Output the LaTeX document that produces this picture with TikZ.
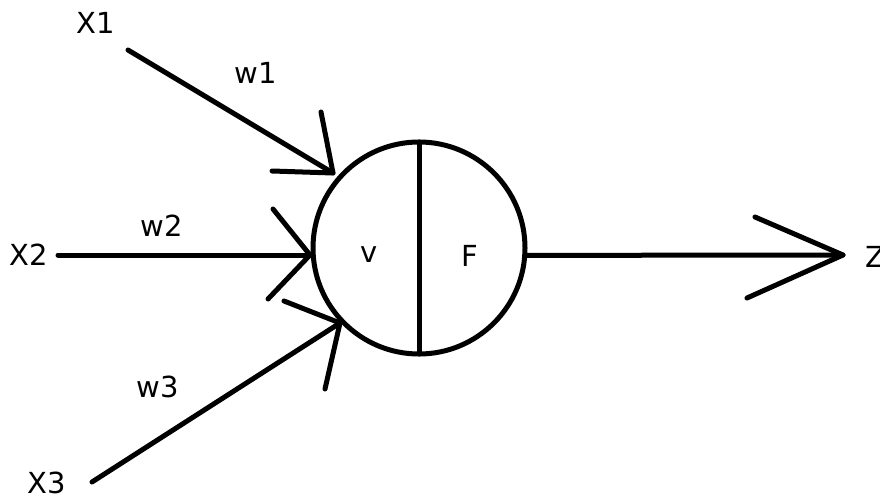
\documentclass[tikz,border=0pt]{standalone}
\usepackage{fontspec}
\setmainfont{DejaVu Sans}
\begin{document}
\begin{tikzpicture}[x=1pt,y=-1pt,line cap=round,line join=round,
  ln/.style={line width=5pt},
  lbl/.style={font=\fontsize{29}{34}\selectfont,inner sep=0pt}]
\useasboundingbox (0,0) rectangle (880,497);
% neuron body
\node[draw,circle,line width=5pt,minimum size=212pt,inner sep=0pt,outer sep=0pt] (c) at (419,248) {};
\draw[ln] (c.north) -- (c.south);
\node[lbl] (v) at (369,255) {v};
\node[lbl] (F) at (470,256) {F};
% inputs
\node[lbl] (x1) at (96,23) {X1};
\node[lbl] (x2) at (29,255) {X2};
\node[lbl] (x3) at (47,483) {X3};
\node[lbl] (w1) at (256,73) {w1};
\node[lbl] (w2) at (162,226) {w2};
\node[lbl] (w3) at (158,387) {w3};
\node[lbl,anchor=west] (z) at (865,257) {Z};
% connector ends
\coordinate (s1) at (128,50);
\coordinate (t1) at (333,173);
\coordinate (s2) at (58,255);
\coordinate (t2) at (310,255);
\coordinate (s3) at (92,482);
\coordinate (t3) at (340,323);
\coordinate (tz) at (843,255);
% barb ends
\coordinate (b1a) at (321,112);
\coordinate (b1b) at (272,171);
\coordinate (b2a) at (273,209);
\coordinate (b2b) at (268,299);
\coordinate (b3a) at (284,301);
\coordinate (b3b) at (325,389);
\coordinate (bza) at (755,217);
\coordinate (bzb) at (747,298);
% connectors
\draw[ln] (s1) -- (t1);
\draw[ln] (b1a) -- (t1) -- (b1b);
\draw[ln] (s2) -- (t2);
\draw[ln] (b2a) -- (t2) -- (b2b);
\draw[ln] (s3) -- (t3);
\draw[ln] (b3a) -- (t3) -- (b3b);
\draw[ln] (c.-4) -- (tz);
\draw[ln] (bza) -- (tz) -- (bzb);
\end{tikzpicture}
\end{document}
